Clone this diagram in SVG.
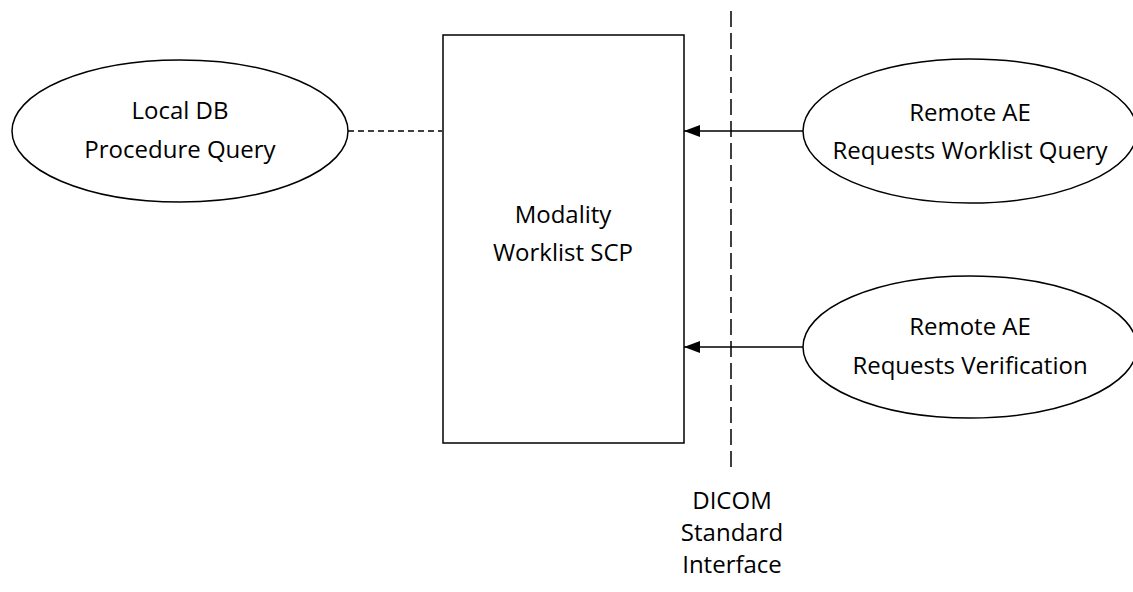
<svg xmlns="http://www.w3.org/2000/svg" width="1133" height="592" viewBox="0 0 1133 592">
<style>
.shape{fill:#fff;stroke:#000;stroke-width:1.5}
.t{font-family:"Open Sans","Noto Sans",sans-serif;font-size:24px;fill:#000;text-anchor:middle}
.c{stroke:#000;stroke-width:1.5;fill:none}
</style>
<defs>
<marker id="ah" markerWidth="16" markerHeight="12" refX="16" refY="6" orient="auto" markerUnits="userSpaceOnUse">
<path d="M0,0 L16,6 L0,12 Z" fill="#000"/>
</marker>
</defs>
<rect width="1133" height="592" fill="#fff"/>
<g id="connectors">
<line class="c" x1="348" y1="131" x2="442" y2="131" stroke-dasharray="6,4"/>
<line class="c" x1="803" y1="131" x2="684" y2="131" marker-end="url(#ah)"/>
<line class="c" x1="803" y1="347" x2="684" y2="347" marker-end="url(#ah)"/>
<line class="c" x1="731" y1="11" x2="731" y2="468" stroke-dasharray="16,6"/>
</g>
<g id="local-db">
<ellipse class="shape" cx="180" cy="131" rx="168" ry="71"/>
<text class="t" x="180" y="119">Local DB</text>
<text class="t" x="180" y="158">Procedure Query</text>
</g>
<g id="mwl-scp">
<rect class="shape" x="443" y="35" width="241" height="408"/>
<text class="t" x="563" y="223">Modality</text>
<text class="t" x="563" y="261">Worklist SCP</text>
</g>
<g id="remote-query">
<ellipse class="shape" cx="970" cy="131" rx="167" ry="72"/>
<text class="t" x="970" y="121">Remote AE</text>
<text class="t" x="970" y="159">Requests Worklist Query</text>
</g>
<g id="remote-verify">
<ellipse class="shape" cx="970" cy="347" rx="167" ry="71"/>
<text class="t" x="970" y="335">Remote AE</text>
<text class="t" x="970" y="374">Requests Verification</text>
</g>
<g id="dicom-label">
<text class="t" x="732" y="509">DICOM</text>
<text class="t" x="732" y="541">Standard</text>
<text class="t" x="732" y="573">Interface</text>
</g>
</svg>
